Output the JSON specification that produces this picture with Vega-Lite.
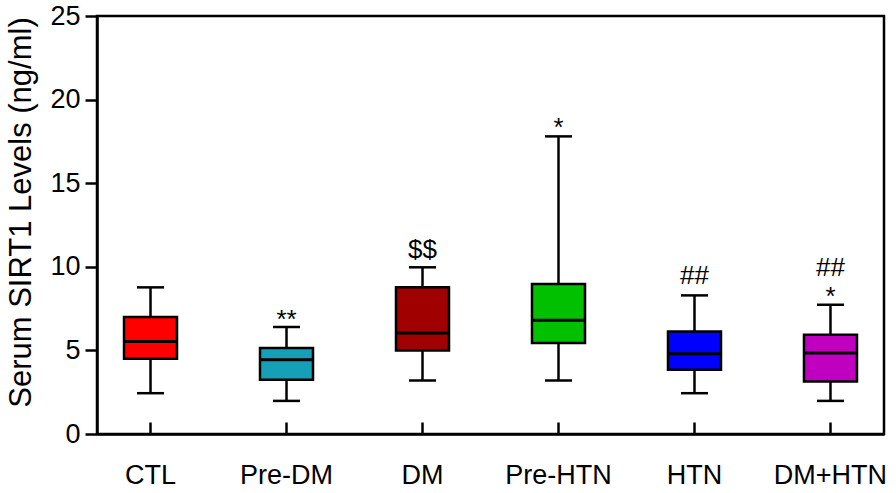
{
  "$schema": "https://vega.github.io/schema/vega-lite/v6.json",
  "width": 787,
  "height": 418,
  "autosize": "none",
  "padding": {"left": 97, "top": 16, "right": 12, "bottom": 59},
  "background": "white",
  "config": {
    "view": {"stroke": "black", "strokeWidth": 2.5},
    "font": "Liberation Sans",
    "axis": {
      "domainColor": "black", "domainWidth": 2.5,
      "tickColor": "black", "tickWidth": 2.5,
      "labelColor": "black", "titleColor": "black",
      "labelFont": "Liberation Sans", "titleFont": "Liberation Sans",
      "grid": false
    }
  },
  "datasets": {
    "stats": [
      {"group": "CTL", "min": 2.44, "q1": 4.5, "median": 5.53, "q3": 7.0, "max": 8.77},
      {"group": "Pre-DM", "min": 1.98, "q1": 3.24, "median": 4.44, "q3": 5.14, "max": 6.4},
      {"group": "DM", "min": 3.2, "q1": 5.0, "median": 6.04, "q3": 8.77, "max": 9.97},
      {"group": "Pre-HTN", "min": 3.2, "q1": 5.44, "median": 6.8, "q3": 8.97, "max": 17.8},
      {"group": "HTN", "min": 2.44, "q1": 3.84, "median": 4.8, "q3": 6.13, "max": 8.29},
      {"group": "DM+HTN", "min": 1.98, "q1": 3.14, "median": 4.84, "q3": 5.94, "max": 7.73}
    ],
    "annot": [
      {"group": "Pre-DM", "label": "**", "y": 6.8},
      {"group": "DM", "label": "$$", "y": 11.0},
      {"group": "Pre-HTN", "label": "*", "y": 18.3},
      {"group": "HTN", "label": "##", "y": 9.43},
      {"group": "DM+HTN", "label": "##", "y": 9.93},
      {"group": "DM+HTN", "label": "*", "y": 8.2}
    ]
  },
  "encoding": {
    "x": {
      "field": "group", "type": "nominal",
      "scale": {"domain": ["CTL", "Pre-DM", "DM", "Pre-HTN", "HTN", "DM+HTN"], "paddingInner": 0.213, "paddingOuter": 0},
      "axis": {"title": null, "labelAngle": 0, "labelFontSize": 27, "tickSize": -12, "labelPadding": 40}
    }
  },
  "layer": [
    {
      "data": {"name": "stats"},
      "mark": {"type": "rule", "color": "black", "strokeWidth": 2.5},
      "encoding": {
        "y": {"field": "min", "type": "quantitative",
          "scale": {"domain": [0, 25], "nice": false, "zero": true},
          "axis": {"title": "Serum SIRT1 Levels (ng/ml)", "values": [0, 5, 10, 15, 20, 25], "labelFontSize": 27, "tickSize": 12, "labelPadding": 5,
            "titleFontSize": 31, "titleFontWeight": "normal", "titleX": -76, "titleY": 196, "titleAlign": "center", "titleBaseline": "middle", "titleAngle": -90}},
        "y2": {"field": "max"}
      }
    },
    {
      "data": {"name": "stats"},
      "mark": {"type": "bar", "width": 53, "stroke": "black", "strokeWidth": 2.5},
      "encoding": {
        "y": {"field": "q1", "type": "quantitative"},
        "y2": {"field": "q3"},
        "fill": {"field": "group", "type": "nominal", "legend": null,
          "scale": {"domain": ["CTL", "Pre-DM", "DM", "Pre-HTN", "HTN", "DM+HTN"],
            "range": ["#FF0000", "#16A0B8", "#A00000", "#00C000", "#0000FF", "#C000C0"]}}
      }
    },
    {
      "data": {"name": "stats"},
      "mark": {"type": "tick", "color": "black", "size": 53, "thickness": 3, "opacity": 1},
      "encoding": {"y": {"field": "median", "type": "quantitative"}}
    },
    {
      "data": {"name": "stats"},
      "mark": {"type": "tick", "color": "black", "size": 27, "thickness": 2.5, "opacity": 1},
      "encoding": {"y": {"field": "min", "type": "quantitative"}}
    },
    {
      "data": {"name": "stats"},
      "mark": {"type": "tick", "color": "black", "size": 27, "thickness": 2.5, "opacity": 1},
      "encoding": {"y": {"field": "max", "type": "quantitative"}}
    },
    {
      "data": {"name": "annot"},
      "mark": {"type": "text", "fontSize": 26, "color": "black", "baseline": "middle", "align": "center"},
      "encoding": {
        "y": {"field": "y", "type": "quantitative"},
        "text": {"field": "label", "type": "nominal"}
      }
    }
  ]
}
